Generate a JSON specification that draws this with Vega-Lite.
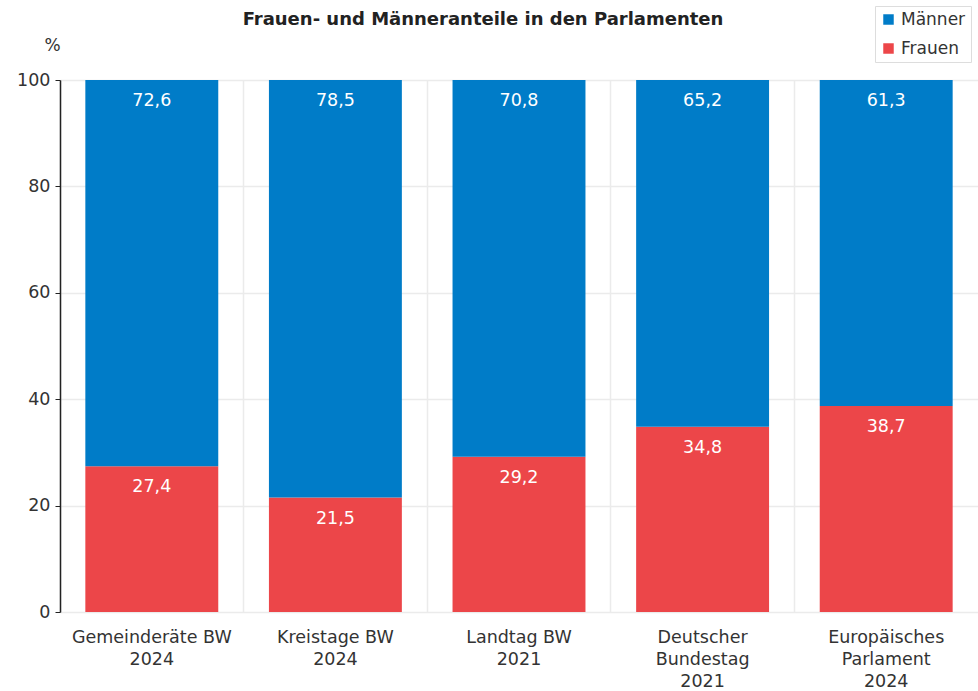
{
  "$schema": "https://vega.github.io/schema/vega-lite/v6.json",
  "width": 918,
  "height": 532,
  "autosize": "none",
  "padding": {"left": 60, "top": 80, "right": 0, "bottom": 79},
  "background": "white",
  "config": {
    "font": "DejaVu Sans",
    "view": {"stroke": null}
  },
  "title": {
    "text": "Frauen- und Männeranteile in den Parlamenten",
    "font": "DejaVu Sans",
    "fontSize": 18,
    "fontWeight": "bold",
    "color": "#222222",
    "anchor": "middle",
    "dx": -36,
    "offset": -23
  },
  "data": {
    "values": [
      {"cat": "Gemeinderäte BW|2024", "gender": "Frauen", "value": 27.4, "label": "27,4"},
      {"cat": "Gemeinderäte BW|2024", "gender": "Männer", "value": 72.6, "label": "72,6"},
      {"cat": "Kreistage BW|2024", "gender": "Frauen", "value": 21.5, "label": "21,5"},
      {"cat": "Kreistage BW|2024", "gender": "Männer", "value": 78.5, "label": "78,5"},
      {"cat": "Landtag BW|2021", "gender": "Frauen", "value": 29.2, "label": "29,2"},
      {"cat": "Landtag BW|2021", "gender": "Männer", "value": 70.8, "label": "70,8"},
      {"cat": "Deutscher|Bundestag|2021", "gender": "Frauen", "value": 34.8, "label": "34,8"},
      {"cat": "Deutscher|Bundestag|2021", "gender": "Männer", "value": 65.2, "label": "65,2"},
      {"cat": "Europäisches|Parlament|2024", "gender": "Frauen", "value": 38.7, "label": "38,7"},
      {"cat": "Europäisches|Parlament|2024", "gender": "Männer", "value": 61.3, "label": "61,3"}
    ]
  },
  "transform": [
    {"stack": "value", "groupby": ["cat"], "sort": [{"field": "gender", "order": "ascending"}], "as": ["y0", "y1"]}
  ],
  "encoding": {
    "x": {
      "field": "cat",
      "type": "nominal",
      "sort": null,
      "scale": {"paddingInner": 0, "paddingOuter": 0},
      "axis": {
        "title": null,
        "labelAngle": 0,
        "labelExpr": "split(datum.value, '|')",
        "labelFont": "DejaVu Sans",
        "labelFontSize": 17.5,
        "labelColor": "#333333",
        "labelPadding": 16,
        "labelLineHeight": 22,
        "domain": false,
        "ticks": false,
        "grid": true,
        "bandPosition": 0,
        "gridColor": "#ebebeb",
        "gridWidth": 1.5
      }
    }
  },
  "layer": [
    {
      "mark": {"type": "bar", "width": {"band": 0.724}},
      "encoding": {
        "y": {
          "field": "y0",
          "type": "quantitative",
          "scale": {"domain": [0, 100], "nice": false},
          "axis": {
            "title": "%",
            "titleAngle": 0,
            "titleX": -8,
            "titleY": -26,
            "titleFont": "DejaVu Sans",
            "titleFontSize": 17,
            "titleFontWeight": "normal",
            "titleColor": "#333333",
            "titleAlign": "center",
            "values": [0, 20, 40, 60, 80, 100],
            "labelFont": "DejaVu Sans",
            "labelFontSize": 17.5,
            "labelColor": "#333333",
            "labelPadding": 5,
            "domainColor": "#222222",
            "domainWidth": 1.5,
            "tickColor": "#222222",
            "tickSize": 5,
            "gridColor": "#ebebeb",
            "gridWidth": 1.5
          }
        },
        "y2": {"field": "y1"},
        "color": {
          "field": "gender",
          "type": "nominal",
          "scale": {"domain": ["Männer", "Frauen"], "range": ["#007CC8", "#EC4649"]},
          "legend": {
            "title": null,
            "orient": "none",
            "legendX": 815,
            "legendY": -74,
            "symbolType": "square",
            "symbolSize": 110,
            "symbolStrokeWidth": 0,
            "labelFont": "DejaVu Sans",
            "labelFontSize": 17,
            "labelColor": "#333333",
            "labelOffset": 4,
            "rowPadding": 11,
            "strokeColor": "#dddddd",
            "padding": 5,
            "fillColor": "white"
          }
        }
      }
    },
    {
      "mark": {"type": "text", "color": "white", "fontSize": 17.5, "font": "DejaVu Sans", "baseline": "middle", "dy": 21},
      "encoding": {
        "y": {"field": "y1", "type": "quantitative"},
        "text": {"field": "label"}
      }
    }
  ]
}
